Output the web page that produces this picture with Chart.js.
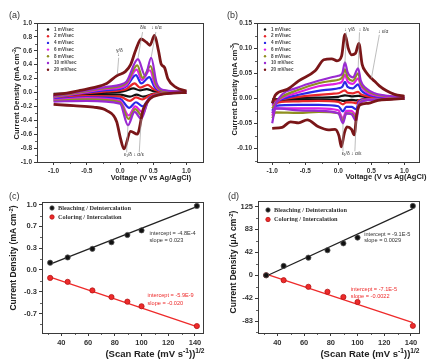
<!DOCTYPE html>
<html>
<head>
<meta charset="utf-8">
<script src="https://cdn.jsdelivr.net/npm/chart.js@4.4.1/dist/chart.umd.min.js"></script>
<style>
body { margin:0; background:#fff; width:430px; height:362px; position:relative; overflow:hidden; font-family:"Liberation Sans", Arial, sans-serif; color:#222; }
canvas { position:absolute; }
.tag { position:absolute; font-size:9px; color:#333; }
.yt { position:absolute; font-weight:bold; white-space:nowrap; transform:translate(-50%,-50%) rotate(-90deg); }
.xt { position:absolute; font-weight:bold; white-space:nowrap; transform:translate(-50%,-50%); }
sup { font-size:70%; }
</style>
</head>
<body>
<canvas id="ca" width="215" height="181" style="left:0;top:0"></canvas>
<canvas id="cb" width="215" height="181" style="left:215px;top:0"></canvas>
<canvas id="cc" width="215" height="181" style="left:0;top:181px"></canvas>
<canvas id="cd" width="215" height="181" style="left:215px;top:181px"></canvas>

<div class="tag" style="left:9px;top:10px">(a)</div>
<div class="tag" style="left:227px;top:10px">(b)</div>
<div class="tag" style="left:9px;top:191px">(c)</div>
<div class="tag" style="left:228px;top:191px">(d)</div>

<div class="yt" style="left:16px;top:93px;font-size:7.5px">Current Density (mA cm<sup>-2</sup>)</div>
<div class="yt" style="left:234px;top:89px;font-size:7.5px">Current Density (mA cm<sup>-3</sup>)</div>
<div class="yt" style="left:13px;top:258px;font-size:8.5px">Current Density (mA cm<sup>-2</sup>)</div>
<div class="yt" style="left:233px;top:262px;font-size:8.5px">Current Density (&mu;A cm<sup>-2</sup>)</div>

<div class="xt" style="left:151px;top:177px;font-size:7.5px">Voltage (V vs Ag/AgCl)</div>
<div class="xt" style="left:386px;top:176px;font-size:7.5px">Voltage (V vs Ag(AgCl)</div>
<div class="xt" style="left:155px;top:353px;font-size:9.5px">(Scan Rate (mV s<sup>-1</sup>))<sup>1/2</sup></div>
<div class="xt" style="left:370px;top:353px;font-size:9.5px">(Scan Rate (mV s<sup>-1</sup>))<sup>1/2</sup></div>

<script>
// scan rates and their colours
var rates = ["1 mV/sec", "2 mV/sec", "4 mV/sec", "6 mV/sec", "8 mV/sec", "10 mV/sec", "20 mV/sec"];
var rateColors = ["#111111", "#e8262a", "#2a2ae6", "#e020e0", "#8f8f20", "#9a2ad2", "#7a1618"];

// (a) CV loops: [V, mA cm-2], anodic (up) and cathodic (dn) branches
var aUp1 = [[-1,-0.02],[-0.5,-0.01],[0,0.01],[0.1,0.03],[0.2,0.06],[0.3,0.03],[0.4,0.05],[0.5,0.02],[0.7,0.01],[1,0]];
var aDn1 = [[-1,-0.04],[-0.5,-0.03],[0,-0.03],[0.15,-0.06],[0.25,-0.03],[0.35,-0.06],[0.5,-0.02],[0.7,-0.01],[1,0]];
var aUp2 = [[-1,-0.05],[-0.5,-0.01],[-0.2,0.015],[0,0.03],[0.1,0.05],[0.22,0.13],[0.3,0.07],[0.42,0.11],[0.5,0.05],[0.6,0.02],[1,0.01]];
var aDn2 = [[-1,-0.08],[-0.5,-0.05],[0,-0.06],[0.15,-0.12],[0.24,-0.07],[0.34,-0.1],[0.45,-0.04],[0.6,-0.01],[1,0]];
var aUp4 = [[-1,-0.07],[-0.5,0],[-0.2,0.035],[0,0.05],[0.1,0.09],[0.24,0.25],[0.32,0.13],[0.44,0.22],[0.52,0.08],[0.6,0.03],[1,0.01]];
var aDn4 = [[-1,-0.1],[-0.5,-0.07],[0,-0.09],[0.14,-0.22],[0.24,-0.14],[0.34,-0.2],[0.45,-0.07],[0.6,-0.02],[1,0]];
var aUp6 = [[-1,-0.07],[-0.5,0.01],[-0.2,0.05],[0,0.07],[0.1,0.11],[0.25,0.33],[0.33,0.18],[0.45,0.32],[0.53,0.1],[0.62,0.03],[1,0.01]];
var aDn6 = [[-1,-0.11],[-0.5,-0.08],[0,-0.12],[0.13,-0.33],[0.23,-0.2],[0.33,-0.28],[0.43,-0.1],[0.6,-0.02],[1,0]];
var aUp8 = [[-1,-0.06],[-0.5,0.02],[-0.2,0.065],[0,0.09],[0.1,0.14],[0.26,0.39],[0.34,0.21],[0.46,0.38],[0.54,0.12],[0.63,0.03],[1,0.01]];
var aDn8 = [[-1,-0.12],[-0.5,-0.1],[0,-0.14],[0.13,-0.38],[0.23,-0.24],[0.33,-0.33],[0.43,-0.11],[0.6,-0.02],[1,0]];
var aUp10 = [[-1,-0.05],[-0.5,0.03],[-0.2,0.08],[0,0.11],[0.1,0.16],[0.27,0.48],[0.38,0.24],[0.47,0.5],[0.55,0.14],[0.64,0.04],[1,0.01]];
var aDn10 = [[-1,-0.13],[-0.5,-0.12],[0,-0.16],[0.12,-0.47],[0.22,-0.28],[0.32,-0.38],[0.42,-0.13],[0.6,-0.03],[1,0]];
var aUp20 = [[-1,-0.03],[-0.8,-0.01],[-0.6,0.03],[-0.4,0.07],[-0.2,0.13],[-0.05,0.24],[0.08,0.3],[0.16,0.4],[0.24,0.62],[0.32,0.77],[0.4,0.72],[0.45,0.68],[0.52,0.82],[0.58,0.6],[0.62,0.41],[0.67,0.36],[0.72,0.2],[0.85,0.07],[1,0.02]];
var aDn20 = [[-1,-0.17],[-0.7,-0.19],[-0.4,-0.21],[-0.2,-0.26],[-0.05,-0.42],[0,-0.63],[0.06,-0.81],[0.16,-0.56],[0.26,-0.6],[0.35,-0.24],[0.45,-0.09],[0.6,-0.03],[0.8,-0.01],[1,0]];

// (b) CV loops
var bUp1 = [[-1,-0.002],[-0.5,0.001],[0,0.003],[0.1,0.006],[0.2,0.004],[0.3,0.005],[0.5,0.001],[1,0]];
var bDn1 = [[-1,-0.004],[-0.5,-0.002],[0,-0.003],[0.07,-0.005],[0.2,-0.003],[0.27,-0.004],[0.5,-0.001],[1,0]];
var bUp2 = [[-1,-0.006],[-0.9,-0.003],[-0.6,0.003],[-0.3,0.007],[-0.1,0.009],[0,0.01],[0.1,0.016],[0.14,0.011],[0.22,0.01],[0.3,0.013],[0.34,0.008],[0.42,0.005],[0.6,0.002],[1,0.001]];
var bDn2 = [[-1,-0.012],[-0.9,-0.008],[-0.6,-0.006],[-0.3,-0.005],[0,-0.007],[0.07,-0.012],[0.12,-0.008],[0.2,-0.008],[0.27,-0.01],[0.31,-0.004],[0.45,-0.001],[1,0]];
var bUp4 = [[-1,-0.012],[-0.9,-0.004],[-0.6,0.007],[-0.3,0.015],[-0.1,0.018],[0,0.02],[0.06,0.023],[0.1,0.033],[0.14,0.023],[0.22,0.02],[0.3,0.028],[0.34,0.017],[0.42,0.009],[0.55,0.004],[0.75,0.002],[1,0.001]];
var bDn4 = [[-1,-0.025],[-0.95,-0.015],[-0.6,-0.013],[-0.3,-0.013],[0,-0.016],[0.07,-0.026],[0.12,-0.017],[0.2,-0.017],[0.27,-0.022],[0.31,-0.007],[0.4,-0.002],[0.7,-0.001],[1,0]];
var bUp6 = [[-1,-0.015],[-0.9,-0.003],[-0.6,0.012],[-0.3,0.024],[-0.1,0.028],[0,0.03],[0.06,0.034],[0.1,0.047],[0.14,0.034],[0.22,0.029],[0.3,0.04],[0.34,0.025],[0.42,0.013],[0.55,0.006],[0.75,0.003],[1,0.002]];
var bDn6 = [[-1,-0.035],[-0.95,-0.02],[-0.6,-0.02],[-0.3,-0.02],[0,-0.024],[0.07,-0.04],[0.12,-0.025],[0.2,-0.025],[0.27,-0.034],[0.31,-0.01],[0.4,-0.003],[0.7,-0.001],[1,0]];
var bUp8 = [[-1,-0.02],[-0.9,-0.002],[-0.6,0.017],[-0.3,0.03],[-0.1,0.035],[0,0.037],[0.06,0.042],[0.1,0.058],[0.14,0.042],[0.22,0.035],[0.3,0.05],[0.34,0.03],[0.42,0.017],[0.55,0.008],[0.75,0.004],[1,0.002]];
var bDn8 = [[-1,-0.04],[-0.95,-0.028],[-0.6,-0.029],[-0.3,-0.027],[0,-0.03],[0.07,-0.045],[0.12,-0.03],[0.2,-0.03],[0.27,-0.04],[0.31,-0.013],[0.4,-0.004],[0.7,-0.002],[1,0]];
var bUp10 = [[-1,-0.03],[-0.9,0],[-0.6,0.022],[-0.3,0.035],[-0.1,0.042],[0,0.045],[0.06,0.05],[0.1,0.072],[0.14,0.052],[0.22,0.042],[0.3,0.06],[0.34,0.035],[0.42,0.02],[0.55,0.01],[0.75,0.005],[1,0.003]];
var bDn10 = [[-1,-0.05],[-0.95,-0.02],[-0.6,-0.024],[-0.3,-0.025],[0,-0.03],[0.07,-0.05],[0.12,-0.03],[0.2,-0.032],[0.27,-0.045],[0.31,-0.015],[0.4,-0.005],[0.7,-0.002],[1,0]];
var bUp20 = [[-1,-0.01],[-0.95,0.007],[-0.77,0.018],[-0.6,0.035],[-0.35,0.055],[-0.22,0.077],[-0.1,0.079],[-0.02,0.075],[0.05,0.085],[0.1,0.128],[0.15,0.1],[0.2,0.087],[0.26,0.09],[0.31,0.11],[0.36,0.068],[0.42,0.052],[0.5,0.04],[0.55,0.034],[0.62,0.025],[0.73,0.015],[0.85,0.008],[1,0.004]];
var bDn20 = [[-1,-0.06],[-0.85,-0.058],[-0.72,-0.047],[-0.6,-0.049],[-0.47,-0.043],[-0.3,-0.057],[-0.15,-0.063],[-0.05,-0.062],[0.01,-0.075],[0.045,-0.097],[0.09,-0.07],[0.13,-0.057],[0.2,-0.062],[0.24,-0.073],[0.28,-0.03],[0.33,-0.013],[0.45,-0.01],[0.6,-0.004],[0.8,-0.002],[1,0]];

var aUps = [aUp1, aUp2, aUp4, aUp6, aUp8, aUp10, aUp20];
var aDns = [aDn1, aDn2, aDn4, aDn6, aDn8, aDn10, aDn20];
var bUps = [bUp1, bUp2, bUp4, bUp6, bUp8, bUp10, bUp20];
var bDns = [bDn1, bDn2, bDn4, bDn6, bDn8, bDn10, bDn20];

// (c), (d) peak current vs square root of scan rate
var sqrtRate = [31.6, 44.7, 63.2, 77.5, 89.4, 100, 141.4];
var cBleach = [0.11, 0.19, 0.32, 0.42, 0.53, 0.60, 0.97];
var cColor = [-0.12, -0.18, -0.31, -0.41, -0.48, -0.55, -0.85];
var cBleachFit = [[31.6, 0.09], [141.4, 0.96]];
var cColorFit = [[31.6, -0.11], [141.4, -0.86]];
var dBleach = [0, 17, 32, 45.5, 58, 68.5, 126];
var dColor = [0, -9, -21, -30, -39.5, -48.6, -92];
var dBleachFit = [[33, 0], [141.4, 121]];
var dColorFit = [[31.6, 2], [141.4, -86]];

// tick labels
var cvXTicks = [-1.0, -0.5, 0.0, 0.5, 1.0];
var aYTicks = [-1.0, -0.8, -0.6, -0.4, -0.2, 0.0, 0.2, 0.4, 0.6, 0.8, 1.0];
var bYTicks = [-0.10, -0.05, 0.00, 0.05, 0.10, 0.15];
var fitXTicks = [40, 60, 80, 100, 120, 140];
var cYTicks = [-0.66, -0.33, 0, 0.33, 0.66, 0.99];
var cYLabels = ["-0.7", "-0.3", "0.0", "0.3", "0.7", "1.0"];
var dYTicks = [-83.3, -41.7, 0, 41.7, 83.3, 125];
var dYLabels = ["-83", "-42", "0", "42", "83", "125"];

var sans = "'Liberation Sans', Arial, sans-serif";

function pts(arr) {
    return arr.map(function(p) { return {x: p[0], y: p[1]}; });
}

// frame, inner legend, notes and leader lines
var decor = {
    id: 'decor',
    afterDraw: function(chart, args, o) {
        var ctx = chart.ctx, a = chart.chartArea;
        var sx = chart.scales.x, sy = chart.scales.y;
        ctx.save();
        ctx.strokeStyle = '#3a3a3a';
        ctx.lineWidth = 1;
        ctx.strokeRect(Math.round(a.left) + 0.5, Math.round(a.top) + 0.5, Math.round(a.right - a.left), Math.round(a.bottom - a.top));
        // minor ticks
        ctx.lineWidth = 0.8;
        (o.minorX || []).forEach(function(v) {
            var px = Math.round(sx.getPixelForValue(v)) + 0.5;
            ctx.beginPath(); ctx.moveTo(px, a.bottom); ctx.lineTo(px, a.bottom + 2); ctx.stroke();
        });
        (o.minorY || []).forEach(function(v) {
            var py = Math.round(sy.getPixelForValue(v)) + 0.5;
            ctx.beginPath(); ctx.moveTo(a.left, py); ctx.lineTo(a.left - 2, py); ctx.stroke();
        });
        // leader lines
        ctx.strokeStyle = '#a0a0a0';
        ctx.lineWidth = 0.7;
        (o.leaders || []).forEach(function(l) {
            ctx.beginPath();
            ctx.moveTo(sx.getPixelForValue(l[0]), sy.getPixelForValue(l[1]));
            ctx.lineTo(sx.getPixelForValue(l[2]), sy.getPixelForValue(l[3]));
            ctx.stroke();
        });
        // notes
        ctx.textBaseline = 'middle';
        (o.notes || []).forEach(function(n) {
            ctx.fillStyle = n[3] || '#333';
            ctx.font = n[4] || ('5px ' + sans);
            ctx.textAlign = 'left';
            ctx.fillText(n[0], sx.getPixelForValue(n[1]), sy.getPixelForValue(n[2]));
        });
        // legend
        if (o.legend) {
            var g = o.legend;
            ctx.font = g.font;
            ctx.textAlign = 'left';
            g.labels.forEach(function(t, i) {
                var y = g.y + i * g.dy;
                ctx.fillStyle = g.colors[i];
                ctx.beginPath();
                ctx.arc(g.x, y, g.r, 0, Math.PI * 2);
                ctx.fill();
                if (g.edge) { ctx.strokeStyle = g.edge[i]; ctx.lineWidth = 0.8; ctx.stroke(); }
                ctx.fillStyle = g.textColor;
                ctx.fillText(t, g.x + g.gap, y);
            });
        }
        ctx.restore();
    }
};

function axisOpts(min, max, ticks, labels, digits, size, fontSize, isY) {
    return {
        type: 'linear',
        min: min,
        max: max,
        afterBuildTicks: function(s) {
            s.ticks = ticks.map(function(v) { return {value: v}; });
        },
        afterFit: function(s) {
            if (isY) { s.width = size; } else { s.height = size; }
        },
        grid: {display: true, drawOnChartArea: false, tickLength: 3, color: '#3a3a3a'},
        border: {display: false},
        ticks: {
            padding: 2,
            color: '#333',
            font: {family: sans, size: fontSize, weight: 'bold'},
            maxRotation: 0,
            autoSkip: false,
            callback: function(v, i) {
                return labels ? labels[i] : Number(v).toFixed(digits);
            }
        }
    };
}

function cvChart(id, ups, dns, opts) {
    var sets = [];
    for (var i = 0; i < rates.length; i++) {
        var w = i === 6 ? 2.8 : 2.2;
        var light = i === 6 ? '#e9b6b2' : (i === 0 ? '#f2f2f2' : null);
        [ups[i], dns[i]].forEach(function(br) {
            if (light) {
                sets.push({data: pts(br), showLine: true, pointRadius: 0, borderColor: light, borderWidth: 0.9, cubicInterpolationMode: 'monotone'});
            }
            sets.push({data: pts(br), showLine: true, pointRadius: 0, borderColor: rateColors[i], borderWidth: w, cubicInterpolationMode: 'monotone'});
        });
    }
    sets.reverse();
    return new Chart(document.getElementById(id), {
        type: 'scatter',
        data: {datasets: sets},
        options: {
            responsive: false,
            animation: false,
            devicePixelRatio: 1,
            layout: {padding: opts.pad},
            plugins: {
                legend: {display: false},
                tooltip: {enabled: false},
                decor: {
                    leaders: opts.leaders,
                    notes: opts.notes,
                    minorX: [-0.75, -0.25, 0.25, 0.75],
                    minorY: opts.minorY,
                    legend: {labels: rates, colors: rateColors, x: opts.legX, y: opts.legY, dy: 6.7, r: 1.2, gap: 6,
                             font: 'bold 4.6px ' + sans, textColor: '#444'}
                }
            },
            scales: {
                x: axisOpts(opts.xr[0], opts.xr[1], cvXTicks, null, 1, opts.xh, 6.5, false),
                y: axisOpts(opts.yr[0], opts.yr[1], opts.yTicks, null, opts.yDigits, opts.yw, 6.5, true)
            }
        },
        plugins: [decor]
    });
}

function fitChart(id, bleach, color, bleachFit, colorFit, opts) {
    var sets = [
        {data: sqrtRate.map(function(x, i) { return {x: x, y: bleach[i]}; }), pointRadius: 2.6, backgroundColor: '#111', borderColor: '#555', borderWidth: 0.8},
        {data: sqrtRate.map(function(x, i) { return {x: x, y: color[i]}; }), pointRadius: 2.6, backgroundColor: '#ee2a2a', borderColor: '#b51515', borderWidth: 0.8},
        {data: pts(bleachFit), showLine: true, pointRadius: 0, borderColor: '#222', borderWidth: 1.3},
        {data: pts(colorFit), showLine: true, pointRadius: 0, borderColor: '#ee2a2a', borderWidth: 1.3}
    ];
    return new Chart(document.getElementById(id), {
        type: 'scatter',
        data: {datasets: sets},
        options: {
            responsive: false,
            animation: false,
            devicePixelRatio: 1,
            layout: {padding: opts.pad},
            plugins: {
                legend: {display: false},
                tooltip: {enabled: false},
                decor: {
                    notes: opts.notes,
                    minorX: [30, 50, 70, 90, 110, 130],
                    minorY: opts.minorY,
                    legend: {labels: ["Bleaching / Deintercalation", "Coloring / Intercalation"], colors: ['#111', '#ee2a2a'],
                             edge: ['#555', '#b51515'], x: opts.legX, y: opts.legY, dy: opts.legDy, r: 2.2, gap: 6,
                             font: 'bold 6.3px "Liberation Serif", "Times New Roman", serif', textColor: '#333'}
                }
            },
            scales: {
                x: axisOpts(25.5, 146, fitXTicks, null, 0, 29, 7.5, false),
                y: axisOpts(opts.yr[0], opts.yr[1], opts.yTicks, opts.yLabels, 1, opts.yw, 7.5, true)
            }
        },
        plugins: [decor]
    });
}

cvChart('ca', aUps, aDns, {
    pad: {top: 23, right: 12, left: 0, bottom: 0},
    xr: [-1.25, 1.25], yr: [-1, 1], yTicks: aYTicks, yDigits: 1, yw: 37, xh: 19,
    minorY: [-0.9, -0.7, -0.5, -0.3, -0.1, 0.1, 0.3, 0.5, 0.7, 0.9],
    legX: 48, legY: 29.5,
    leaders: [[-0.02, 0.5, -0.04, 0.26], [0.34, 0.87, 0.27, 0.49], [0.54, 0.87, 0.47, 0.51], [0.1, -0.86, 0.12, -0.47], [0.29, -0.86, 0.32, -0.38]],
    notes: [["γ/δ", -0.06, 0.6], ["↓", -0.04, 0.54], ["δ/ε", 0.3, 0.93], ["↓ ε/α", 0.47, 0.93], ["ε₁/δ ↓ α/ε", 0.06, -0.9]]
});

cvChart('cb', bUps, bDns, {
    pad: {top: 23, right: 11, left: 0, bottom: 0},
    xr: [-1.23, 1.22], yr: [-0.1274, 0.1506], yTicks: bYTicks, yDigits: 2, yw: 42, xh: 19,
    minorY: [-0.125, -0.075, -0.025, 0.025, 0.075, 0.125],
    legX: 50, legY: 29.5,
    leaders: [[0.12, 0.132, 0.1, 0.07], [0.32, 0.132, 0.3, 0.06], [0.62, 0.127, 0.5, 0.04], [0.07, -0.106, 0.07, -0.05], [0.25, -0.106, 0.27, -0.045]],
    notes: [["↓ γ/δ", 0.09, 0.138], ["↓ δ/ε", 0.31, 0.138], ["↓ ε/α", 0.6, 0.133], ["ε₁/δ ↓ α/ε", 0.05, -0.111]]
});

fitChart('cc', cBleach, cColor, cBleachFit, cColorFit, {
    pad: {top: 21, right: 12, left: 0, bottom: 0},
    yr: [-0.955, 1.03], yTicks: cYTicks, yLabels: cYLabels, yw: 42,
    minorY: [-0.825, -0.495, -0.165, 0.165, 0.495, 0.825],
    legX: 52, legY: 27, legDy: 9,
    notes: [["intercept = -4.8E-4", 106, 0.56, '#333', '5.6px ' + sans], ["slope = 0.023", 106, 0.45, '#333', '5.6px ' + sans],
            ["intercept = -5.9E-9", 104.5, -0.38, '#ee2a2a', '5.6px ' + sans], ["slope = -0.020", 104.5, -0.5, '#ee2a2a', '5.6px ' + sans]]
});

fitChart('cd', dBleach, dColor, dBleachFit, dColorFit, {
    pad: {top: 20, right: 11, left: 0, bottom: 0},
    yr: [-105, 135], yTicks: dYTicks, yLabels: dYLabels, yw: 43,
    minorY: [-104, -62.5, -20.8, 20.8, 62.5, 104],
    legX: 53, legY: 29, legDy: 9.5,
    notes: [["intercept = -9.1E-5", 105, 75, '#333', '5.6px ' + sans], ["slope = 0.0029", 105, 63, '#333', '5.6px ' + sans],
            ["intercept = -7.1E-5", 95, -25, '#ee2a2a', '5.6px ' + sans], ["slope = -0.0022", 95, -38, '#ee2a2a', '5.6px ' + sans]]
});
</script>
</body>
</html>
